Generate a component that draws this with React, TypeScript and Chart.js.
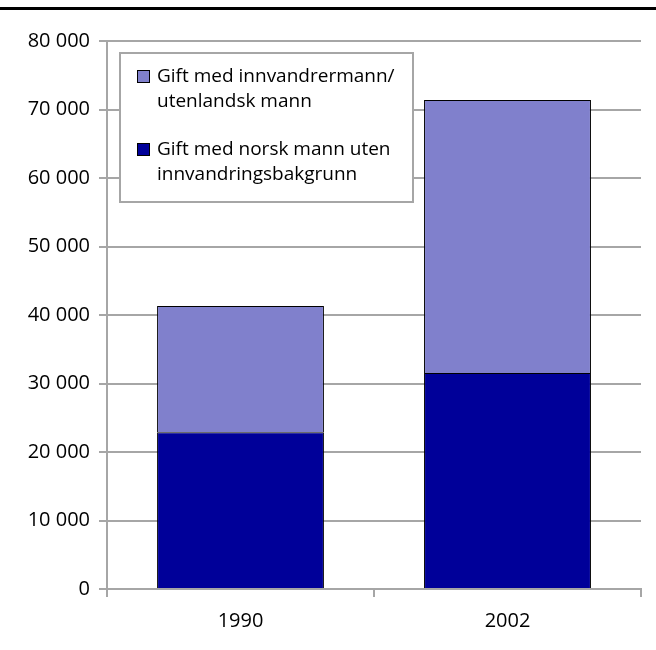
import React, { useEffect, useRef } from "react";
import { Chart, registerables } from "chart.js";

Chart.register(...registerables);

const categories = ["1990", "2002"];
const norskValues = [22900, 31550];
const innvandrerValues = [18400, 39850];
const norskLabel = ["Gift med norsk mann uten", "innvandringsbakgrunn"];
const innvandrerLabel = ["Gift med innvandrermann/", "utenlandsk mann"];
const yTicks = [0, 10000, 20000, 30000, 40000, 50000, 60000, 70000, 80000];

const FONT = "'Open Sans', sans-serif";
const GRID = "#a6a6a6";

const fmt = (v: number) => String(v).replace(/\B(?=(\d{3})+(?!\d))/g, " ");

const decorPlugin = {
  id: "decor",
  beforeDraw(chart: any) {
    const ctx = chart.ctx;
    ctx.save();
    ctx.fillStyle = "#000";
    ctx.fillRect(0, 7, chart.width, 3);
    ctx.restore();
  },
  afterDatasetsDraw(chart: any) {
    const ctx = chart.ctx;
    const area = chart.chartArea;
    const x = area.left + 13;
    const y = area.top + 12;
    const w = 293;
    const h = 149;
    ctx.save();
    ctx.fillStyle = "#fff";
    ctx.fillRect(x, y, w, h);
    ctx.strokeStyle = GRID;
    ctx.lineWidth = 2;
    ctx.strokeRect(x, y, w, h);
    const items = [...chart.data.datasets].reverse();
    ctx.font = `19px ${FONT}`;
    ctx.textBaseline = "middle";
    ctx.textAlign = "left";
    items.forEach((ds: any, i: number) => {
      const cy = y + 24 + i * 73;
      ctx.fillStyle = ds.backgroundColor;
      ctx.fillRect(x + 17, cy - 7, 13, 13);
      ctx.strokeStyle = "#000";
      ctx.lineWidth = 1;
      ctx.strokeRect(x + 17.5, cy - 6.5, 12, 12);
      ctx.fillStyle = "#000";
      (ds.label as string[]).forEach((line: string, j: number) => {
        ctx.fillText(line, x + 37, cy + j * 24.5);
      });
    });
    ctx.restore();
  },
};

export default function App() {
  const ref = useRef<HTMLCanvasElement | null>(null);
  useEffect(() => {
    document.body.style.margin = "0";
    if (!ref.current) return;
    const chart = new Chart(ref.current, {
      type: "bar",
      data: {
        labels: categories,
        datasets: [
          {
            label: norskLabel as any,
            data: norskValues,
            backgroundColor: "#000099",
            borderColor: "#000",
            borderWidth: 1,
            categoryPercentage: 1,
            barPercentage: 0.625,
          },
          {
            label: innvandrerLabel as any,
            data: innvandrerValues,
            backgroundColor: "#8080cc",
            borderColor: "#000",
            borderWidth: 1,
            categoryPercentage: 1,
            barPercentage: 0.625,
          },
        ],
      },
      options: {
        responsive: false,
        animation: false,
        layout: { padding: { top: 41, right: 15, left: 0, bottom: 0 } },
        plugins: { legend: { display: false }, tooltip: { enabled: false } },
        scales: {
          x: {
            stacked: true,
            offset: true,
            afterFit: (s: any) => {
              s.height = 61;
            },
            grid: {
              offset: true,
              drawOnChartArea: false,
              drawTicks: true,
              tickLength: 8,
              color: GRID,
              lineWidth: 2,
            },
            border: { color: GRID, width: 2 },
            ticks: { color: "#000", font: { family: FONT, size: 20 }, padding: 12 },
          },
          y: {
            stacked: true,
            min: 0,
            max: 80000,
            afterFit: (s: any) => {
              s.width = 107;
            },
            afterBuildTicks: (s: any) => {
              s.ticks = yTicks.map((v) => ({ value: v }));
            },
            grid: { color: GRID, lineWidth: 2, tickLength: 8 },
            border: { color: GRID, width: 2 },
            ticks: {
              color: "#000",
              font: { family: FONT, size: 20 },
              padding: 9,
              callback: (v: any) => fmt(Number(v)),
            },
          },
        },
      },
      plugins: [decorPlugin],
    });
    return () => chart.destroy();
  }, []);
  return <canvas ref={ref} width={656} height={650} style={{ display: "block" }} />;
}
